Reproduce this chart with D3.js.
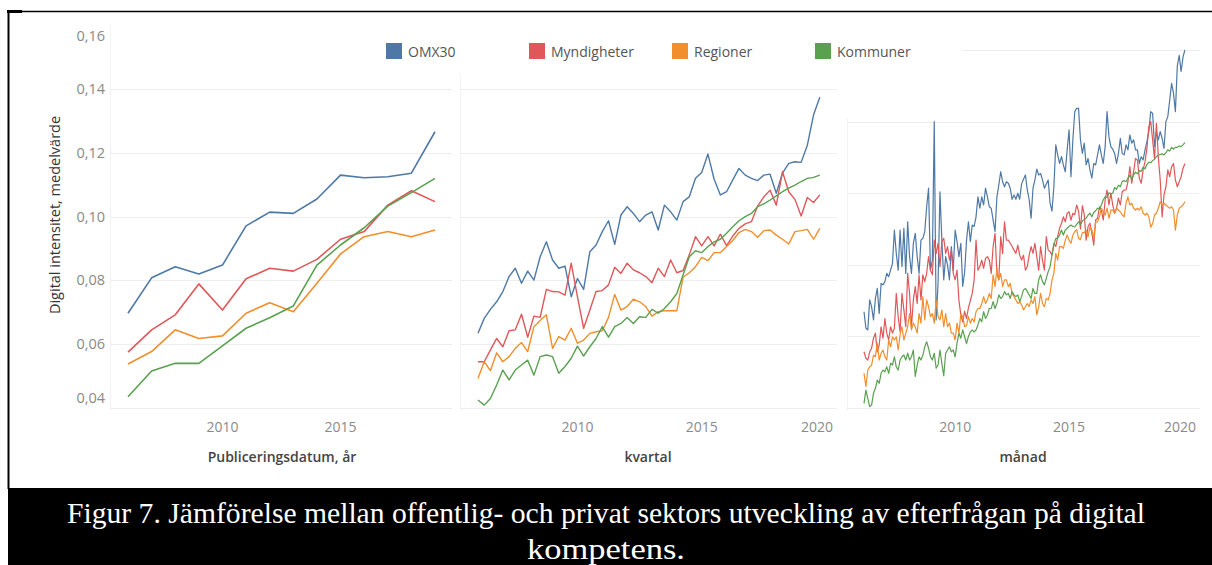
<!DOCTYPE html>
<html><head><meta charset="utf-8">
<script src="https://cdn.jsdelivr.net/npm/d3@7"></script>
<style>body{margin:0;background:#fff}svg{display:block}</style>
</head><body>
<svg id="c" width="1212" height="565"></svg>
<script>
const seriesNames = ["OMX30","Myndigheter","Regioner","Kommuner"];
const seriesColors = ["#4e79a7","#e15759","#f28e2b","#59a14f"];
const yTickValues = [0.04,0.06,0.08,0.10,0.12,0.14,0.16];
const yTickLabels = ["0,04","0,06","0,08","0,10","0,12","0,14","0,16"];
const gridValues = [0.04,0.06,0.08,0.10,0.12,0.14];
const xTickYears = [2010,2015,2020];
const years = [2006,2007,2008,2009,2010,2011,2012,2013,2014,2015,2016,2017,2018,2019];
const xTitles = ["Publiceringsdatum, år","kvartal","månad"];
const yTitle = "Digital intensitet, medelvärde";
const caption1 = "Figur 7. Jämförelse mellan offentlig- och privat sektors utveckling av efterfrågan på digital";
const caption2 = "kompetens.";

// annual (2006-2019)
const yearOMX30 = [0.0697,0.0808,0.0843,0.0820,0.0848,0.0971,0.1014,0.1010,0.1055,0.1130,0.1122,0.1125,0.1136,0.1266];
const yearMynd  = [0.0575,0.0645,0.0692,0.0789,0.0707,0.0805,0.0838,0.0829,0.0866,0.0929,0.0953,0.1036,0.1081,0.1047];
const yearReg   = [0.0538,0.0577,0.0645,0.0618,0.0626,0.0697,0.0730,0.0702,0.0791,0.0883,0.0937,0.0953,0.0937,0.0958];
const yearKomm  = [0.0435,0.0516,0.0540,0.0540,0.0595,0.0650,0.0683,0.0720,0.0848,0.0911,0.0965,0.1033,0.1075,0.1120];

// quarterly (2006Q1-2019Q4)
const qOMX30 = [0.0634,0.0681,0.0709,0.0733, 0.0765,0.0812,0.0838,0.0791, 0.0829,0.0801,0.0874,0.0921, 0.0864,0.0838,0.0845,0.0749,
 0.0806,0.0772,0.0890,0.0911, 0.0953,0.0987,0.0913,0.1005, 0.1031,0.1010,0.0984,0.1005, 0.1015,0.0958,0.1036,0.1015,
 0.0989,0.1047,0.1062,0.1120, 0.1138,0.1196,0.1117,0.1068, 0.1078,0.1115,0.1151,0.1130, 0.1120,0.1113,0.1130,0.1133,
 0.1073,0.1136,0.1167,0.1172, 0.1170,0.1224,0.1319,0.1374];
const qMynd = [0.0545,0.0545,0.0582,0.0618, 0.0592,0.0642,0.0645,0.0694, 0.0622,0.0688,0.0684,0.0772, 0.0765,0.0764,0.0754,0.0854,
 0.0749,0.0650,0.0707,0.0765, 0.0768,0.0786,0.0841,0.0822, 0.0854,0.0833,0.0824,0.0812, 0.0793,0.0838,0.0812,0.0864,
 0.0824,0.0831,0.0880,0.0937, 0.0908,0.0937,0.0908,0.0945, 0.0909,0.0939,0.0963,0.0977, 0.0984,0.1033,0.1062,0.1083,
 0.1036,0.1141,0.1078,0.1054, 0.1002,0.1060,0.1044,0.1068];
const qReg = [0.0493,0.0545,0.0517,0.0573, 0.0545,0.0561,0.0587,0.0605, 0.0577,0.0655,0.0674,0.0692, 0.0587,0.0624,0.0613,0.0650,
 0.0603,0.0613,0.0634,0.0639, 0.0642,0.0684,0.0756,0.0707, 0.0718,0.0741,0.0733,0.0718, 0.0688,0.0702,0.0705,0.0705,
 0.0705,0.0810,0.0824,0.0843, 0.0872,0.0862,0.0887,0.0887, 0.0906,0.0925,0.0950,0.0960, 0.0953,0.0935,0.0956,0.0958,
 0.0942,0.0929,0.0914,0.0953, 0.0956,0.0960,0.0929,0.0963];
const qKomm = [0.0425,0.0409,0.0430,0.0472, 0.0519,0.0488,0.0519,0.0535, 0.0550,0.0503,0.0561,0.0566, 0.0561,0.0509,0.0530,0.0556,
 0.0594,0.0563,0.0592,0.0618, 0.0655,0.0622,0.0655,0.0665, 0.0684,0.0665,0.0686,0.0684, 0.0709,0.0697,0.0712,0.0733,
 0.0759,0.0817,0.0874,0.0893, 0.0887,0.0906,0.0921,0.0929, 0.0948,0.0968,0.0987,0.1000, 0.1010,0.1031,0.1040,0.1052,
 0.1065,0.1078,0.1089,0.1099, 0.1110,0.1120,0.1123,0.1130];

// monthly (Jan 2006 - Feb 2020)
const mOMX30 = [
 0.0669,0.0623,0.0618,0.0702,0.0683,0.0646,0.0706,0.0734,0.0664,0.0748,0.0744,0.0753,
 0.0776,0.0767,0.0785,0.0804,0.0897,0.0832,0.0785,0.0897,0.0795,0.0902,0.0776,0.0920,
 0.0823,0.0776,0.0860,0.0888,0.0823,0.0776,0.0869,0.0874,0.0893,0.0962,0.1014,0.0785,
 0.0813,0.1200,0.0646,0.0748,0.1004,0.0869,0.0758,0.0823,0.0799,0.0758,0.0851,0.0785,
 0.0897,0.0865,0.0823,0.0860,0.0740,0.0780,0.0869,0.0920,0.0865,0.0911,0.0907,0.0934,
 0.0990,0.0958,0.0990,0.0967,0.1014,0.0990,0.0962,0.0958,0.0925,0.0893,0.0990,0.1023,
 0.1060,0.1032,0.1018,0.1032,0.1028,0.1014,0.0983,0.0995,0.0983,0.1000,0.0983,0.1026,
 0.1039,0.1051,0.1009,0.0981,0.0930,0.1014,0.1037,0.1067,0.1051,0.1055,0.1037,0.1014,
 0.1026,0.1037,0.0972,0.0950,0.1018,0.1135,0.1107,0.1083,0.1102,0.1079,0.1060,0.1121,
 0.1177,0.1046,0.1149,0.1228,0.1237,0.1237,0.1149,0.1111,0.1140,0.1079,0.1097,0.1065,
 0.1042,0.1083,0.1079,0.1107,0.1135,0.1107,0.1083,0.1130,0.1228,0.1158,0.1130,0.1123,
 0.1111,0.1083,0.1111,0.1153,0.1111,0.1107,0.1135,0.1121,0.1163,0.1140,0.1149,0.1121,
 0.1121,0.1083,0.1102,0.1093,0.1121,0.1144,0.1172,0.1228,0.1223,0.1130,0.1172,0.1149,
 0.1172,0.1153,0.1125,0.1200,0.1214,0.1260,0.1307,0.1279,0.1228,0.1355,0.1385,0.1340,
 0.1380,0.1400];
const mMynd = [
 0.0557,0.0539,0.0534,0.0557,0.0567,0.0595,0.0609,0.0557,0.0576,0.0627,0.0595,0.0650,
 0.0609,0.0590,0.0627,0.0609,0.0623,0.0720,0.0655,0.0613,0.0720,0.0674,0.0627,0.0776,
 0.0720,0.0627,0.0702,0.0739,0.0692,0.0772,0.0702,0.0772,0.0753,0.0776,0.0823,0.0785,
 0.0772,0.0869,0.0832,0.0860,0.0795,0.0865,0.0874,0.0832,0.0851,0.0813,0.0841,0.0776,
 0.0758,0.0785,0.0700,0.0660,0.0640,0.0670,0.0650,0.0680,0.0700,0.0720,0.0758,0.0869,
 0.0785,0.0795,0.0813,0.0790,0.0818,0.0823,0.0813,0.0776,0.0851,0.0888,0.0776,0.0758,
 0.0879,0.0832,0.0920,0.0869,0.0869,0.0860,0.0851,0.0841,0.0832,0.0855,0.0827,0.0813,
 0.0827,0.0785,0.0795,0.0827,0.0851,0.0832,0.0860,0.0823,0.0785,0.0851,0.0813,0.0785,
 0.0879,0.0841,0.0837,0.0827,0.0860,0.0851,0.0879,0.0902,0.0916,0.0934,0.0920,0.0944,
 0.0948,0.0925,0.0944,0.0940,0.0967,0.0950,0.0900,0.0965,0.0940,0.0869,0.0907,0.0916,
 0.0888,0.0855,0.0925,0.0930,0.0962,0.0953,0.0925,0.0981,0.1009,0.0967,0.1000,0.0967,
 0.0944,0.0958,0.0986,0.0967,0.1004,0.1009,0.1009,0.1032,0.1074,0.1028,0.1060,0.1097,
 0.1093,0.1042,0.1028,0.1065,0.1088,0.1125,0.1186,0.1200,0.1149,0.1097,0.1195,0.1102,
 0.1037,0.0934,0.0995,0.1018,0.1065,0.1046,0.1074,0.1083,0.1037,0.1018,0.1032,0.1046,
 0.1069,0.1083];
const mReg = [
 0.0497,0.0460,0.0506,0.0515,0.0520,0.0548,0.0543,0.0581,0.0534,0.0553,0.0562,0.0543,
 0.0534,0.0590,0.0571,0.0599,0.0590,0.0599,0.0562,0.0604,0.0627,0.0590,0.0609,0.0627,
 0.0664,0.0618,0.0637,0.0627,0.0609,0.0664,0.0637,0.0711,0.0646,0.0702,0.0683,0.0655,
 0.0664,0.0637,0.0702,0.0655,0.0646,0.0674,0.0627,0.0664,0.0627,0.0637,0.0609,0.0609,
 0.0590,0.0637,0.0609,0.0664,0.0655,0.0627,0.0630,0.0655,0.0637,0.0650,0.0640,0.0669,
 0.0678,0.0678,0.0692,0.0711,0.0692,0.0702,0.0720,0.0706,0.0772,0.0739,0.0790,0.0758,
 0.0776,0.0739,0.0758,0.0758,0.0739,0.0748,0.0720,0.0711,0.0702,0.0692,0.0697,0.0688,
 0.0674,0.0683,0.0692,0.0683,0.0702,0.0692,0.0711,0.0660,0.0683,0.0720,0.0692,0.0683,
 0.0706,0.0702,0.0720,0.0758,0.0776,0.0832,0.0813,0.0851,0.0851,0.0846,0.0869,0.0883,
 0.0869,0.0860,0.0883,0.0893,0.0898,0.0874,0.0870,0.0890,0.0890,0.0897,0.0879,0.0907,
 0.0897,0.0874,0.0920,0.0920,0.0934,0.0958,0.0948,0.0939,0.0958,0.0930,0.0953,0.0953,
 0.0944,0.0958,0.0953,0.0948,0.0939,0.0934,0.0972,0.0990,0.0967,0.0972,0.0958,0.0953,
 0.0958,0.0953,0.0962,0.0944,0.0939,0.0944,0.0934,0.0905,0.0915,0.0939,0.0944,0.0958,
 0.0976,0.0967,0.0972,0.0967,0.0962,0.0958,0.0962,0.0953,0.0897,0.0939,0.0958,0.0962,
 0.0967,0.0976];
const mKomm = [
 0.0413,0.0450,0.0427,0.0404,0.0408,0.0441,0.0455,0.0478,0.0469,0.0497,0.0506,0.0501,
 0.0515,0.0497,0.0525,0.0520,0.0543,0.0515,0.0506,0.0534,0.0543,0.0548,0.0534,0.0553,
 0.0534,0.0543,0.0562,0.0488,0.0520,0.0543,0.0534,0.0548,0.0571,0.0585,0.0567,0.0543,
 0.0534,0.0553,0.0511,0.0520,0.0562,0.0525,0.0490,0.0553,0.0562,0.0571,0.0557,0.0562,
 0.0543,0.0581,0.0609,0.0595,0.0618,0.0599,0.0580,0.0600,0.0612,0.0618,0.0612,0.0618,
 0.0632,0.0650,0.0641,0.0669,0.0650,0.0660,0.0678,0.0678,0.0697,0.0678,0.0692,0.0716,
 0.0706,0.0711,0.0725,0.0716,0.0720,0.0706,0.0725,0.0716,0.0711,0.0716,0.0697,0.0711,
 0.0730,0.0734,0.0725,0.0716,0.0706,0.0734,0.0720,0.0720,0.0758,0.0772,0.0753,0.0744,
 0.0762,0.0781,0.0795,0.0827,0.0855,0.0874,0.0874,0.0883,0.0897,0.0883,0.0897,0.0902,
 0.0907,0.0911,0.0907,0.0906,0.0913,0.0920,0.0913,0.0922,0.0927,0.0930,0.0939,0.0944,
 0.0934,0.0946,0.0951,0.0958,0.0955,0.0967,0.0981,0.0990,0.0988,0.1001,0.0998,0.1000,
 0.1016,0.1011,0.1022,0.1018,0.1033,0.1035,0.1032,0.1042,0.1051,0.1039,0.1051,0.1059,
 0.1054,0.1063,0.1061,0.1073,0.1068,0.1080,0.1087,0.1085,0.1091,0.1095,0.1102,0.1106,
 0.1108,0.1110,0.1107,0.1113,0.1121,0.1118,0.1128,0.1123,0.1128,0.1128,0.1132,0.1130,
 0.1135,0.1141];

const svg = d3.select("#c");
const sans = "'Open Sans', 'Noto Sans', sans-serif";
const serif = "'Liberation Serif','Times New Roman',serif";

// frame and caption band
svg.append("rect").attr("x",8).attr("y",488).attr("width",1204).attr("height",77).attr("fill","#000");
svg.append("line").attr("x1",8).attr("x2",1212).attr("y1",11.5).attr("y2",11.5).attr("stroke","#000").attr("stroke-width",1.5);
svg.append("rect").attr("x",7).attr("y",10).attr("width",15).attr("height",3).attr("fill","#000");
svg.append("line").attr("x1",8.5).attr("x2",8.5).attr("y1",11).attr("y2",489).attr("stroke","#000").attr("stroke-width",2);

svg.append("text").attr("x",606).attr("y",523).attr("text-anchor","middle")
  .attr("font-family",serif).attr("font-size",30)
  .attr("fill","#fff").attr("textLength",1078).attr("lengthAdjust","spacingAndGlyphs").text(caption1);
svg.append("text").attr("x",606).attr("y",559).attr("text-anchor","middle")
  .attr("font-family",serif).attr("font-size",30)
  .attr("fill","#fff").attr("textLength",158).attr("lengthAdjust","spacingAndGlyphs").text(caption2);

// panels
const yLM = d3.scaleLinear().domain([0.04,0.14]).range([408,89]);
const yR  = d3.scaleLinear().domain([0.04,0.14]).range([408,50]);
const panels = [
  {x:d3.scaleLinear().domain([2006,2019]).range([128,435]), y:yLM, gx:[110,452], edgeTop:25,
   xs: years, data:[yearOMX30,yearMynd,yearReg,yearKomm], ticks:[2010,2015], title:xTitles[0], tx:282, sw:1.6},
  {x:d3.scaleLinear().domain([2006,2020]).range([478,826]), y:yLM, gx:[460,837], edgeTop:75,
   xs: qOMX30.map((d,i)=>2006+i/4), data:[qOMX30,qMynd,qReg,qKomm], ticks:xTickYears, title:xTitles[1], tx:648, sw:1.4},
  {x:d3.scaleLinear().domain([2006,2020]).range([864,1183]), y:yR, gx:[847,1200], edgeTop:118,
   xs: mOMX30.map((d,i)=>2006+i/12), data:[mOMX30,mMynd,mReg,mKomm], ticks:xTickYears, title:xTitles[2], tx:1023, sw:1.2}
];

panels.forEach(p=>{
  const g = svg.append("g");
  g.append("line").attr("x1",p.gx[0]+0.5).attr("x2",p.gx[0]+0.5).attr("y1",p.edgeTop).attr("y2",410)
    .attr("stroke","#f3f3f3").attr("stroke-width",1);
  g.selectAll("line.grid").data(gridValues).enter().append("line").attr("class","grid")
    .attr("x1",p.gx[0]).attr("x2",p.gx[1])
    .attr("y1",d=>Math.round(p.y(d))+0.5).attr("y2",d=>Math.round(p.y(d))+0.5)
    .attr("stroke","#eeeeee").attr("stroke-width",1);
  g.selectAll("text.xt").data(p.ticks).enter().append("text").attr("class","xt")
    .attr("x",d=>Math.min(p.x(d), p.gx[1]-20)).attr("y",432)
    .attr("text-anchor","middle").attr("font-family",sans).attr("font-size",14).attr("fill","#8a8a8a")
    .text(d=>d);
  g.append("text").attr("x",p.tx).attr("y",462).attr("text-anchor","middle")
    .attr("font-family",sans).attr("font-size",14).attr("font-weight",600).attr("fill","#444").text(p.title);
});

// legend background (covers top gridline of right panel)
svg.append("rect").attr("x",370).attr("y",34).attr("width",593).attr("height",32).attr("fill","#fff");

panels.forEach(p=>{
  const line = d3.line().x((d,i)=>p.x(p.xs[i])).y(d=>p.y(d));
  p.data.forEach((arr,k)=>{
    svg.append("path").datum(arr).attr("d",line).attr("fill","none")
      .attr("stroke",seriesColors[k]).attr("stroke-width",p.sw).attr("stroke-linejoin","round");
  });
});

// y axis labels (left panel)
svg.selectAll("text.yt").data(yTickValues).enter().append("text").attr("class","yt")
  .attr("x",105).attr("y",(d,i)=>yLM(d) + (i===yTickValues.length-1 ? 11 : (i===0 ? -10 : 0)))
  .attr("dy","0.35em").attr("text-anchor","end").attr("font-family",sans).attr("font-size",14.5).attr("fill","#8a8a8a")
  .text((d,i)=>yTickLabels[i]);
svg.append("text").attr("transform","translate(60,215) rotate(-90)").attr("text-anchor","middle")
  .attr("font-family",sans).attr("font-size",14.5).attr("fill","#333").text(yTitle);

// legend
const legX = [386,529,672,815];
seriesNames.forEach((n,k)=>{
  svg.append("rect").attr("x",legX[k]).attr("y",43).attr("width",16).attr("height",16).attr("fill",seriesColors[k]);
  svg.append("text").attr("x",legX[k]+22).attr("y",56.5).attr("font-family",sans).attr("font-size",14)
    .attr("fill","#555").text(n);
});
</script>
</body></html>
